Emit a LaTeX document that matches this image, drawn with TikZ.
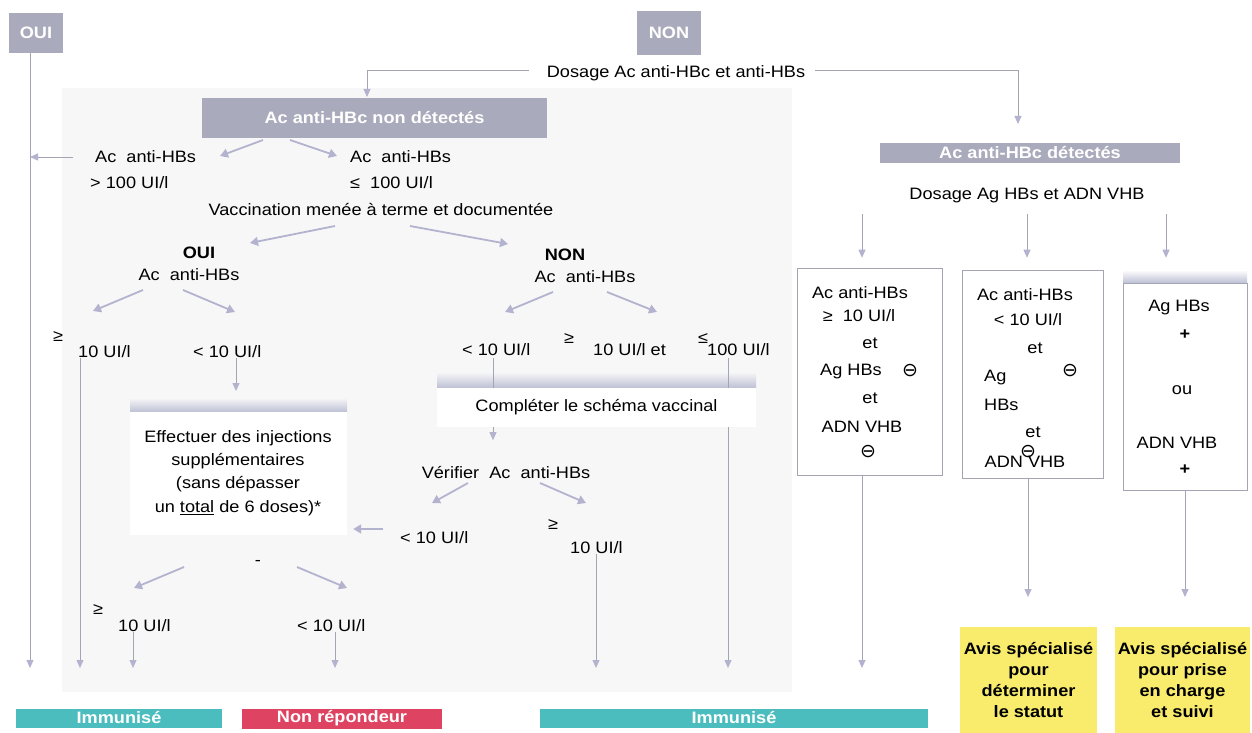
\documentclass[tikz,border=0pt]{standalone}
\usepackage{fontspec}
\setmainfont{Liberation Sans}[FakeStretch=1.1]
\newfontfamily\dvsym{DejaVu Sans}
\usetikzlibrary{arrows.meta,calc}
\definecolor{boxgray}{HTML}{A9AABB}
\definecolor{arrc}{HTML}{B3B3CF}
\definecolor{linec}{HTML}{A4A4B2}
\definecolor{immc}{HTML}{4CBDBE}
\definecolor{redc}{HTML}{DE4462}
\definecolor{yelc}{HTML}{F9EC6C}
\definecolor{panelc}{HTML}{F7F7F8}
\definecolor{shadc}{HTML}{BDC0D4}
\newcommand\dgfs{\fontsize{16.5}{20}\selectfont}
\newcommand\dgmin{{\dvsym\fontsize{19}{20}\selectfont ⊖}}
\tikzset{
  txt/.style={inner sep=0pt, font=\dgfs},
  btxt/.style={inner sep=0pt, font=\dgfs\bfseries},
  gbox/.style={fill=boxgray, text=white, font=\dgfs\bfseries, inner sep=0pt},
  arr/.style={draw=arrc, line width=1.8pt, -{Triangle[width=9pt,length=8pt,color=arrc]}},
  varr/.style={draw=linec, line width=0.8pt, -{Triangle[width=7pt,length=8pt,color=arrc]}},
  vline/.style={draw=linec, line width=0.8pt},
  wbox/.style={fill=white, draw=linec, line width=0.6pt, inner sep=0pt},
  plainbox/.style={fill=white, inner sep=0pt},
  resbox/.style={text=white, font=\dgfs\bfseries, inner sep=0pt},
  ybox/.style={fill=yelc, font=\dgfs\bfseries, align=center, inner sep=0pt}
}
\begin{document}
\begin{tikzpicture}[x=1pt,y=-1pt]
\path[use as bounding box, fill=white] (0,0) rectangle (1252,733);
\fill[panelc] (62,88) rectangle (792,692);

% ---------- top ----------
\node[gbox, minimum width=54pt, minimum height=40pt] (oui) at (36,33) {OUI};
\node[gbox, minimum width=64pt, minimum height=44pt] (non) at (669,33) {NON};
\node[txt] (dosage) at (676,73) {Dosage Ac anti-HBc et anti-HBs};
\node[gbox, minimum width=345pt, minimum height=40pt] (nondet) at (374.5,118) {Ac anti-HBc non détectés};
\node[gbox, minimum width=300pt, minimum height=20pt] (det) at (1030,153) {Ac anti-HBc détectés};
\coordinate (nda) at (367,97);
\coordinate (dta) at (1018,124);
\draw[varr] ([xshift=-18pt,yshift=3pt]dosage.west) -| (nda);
\draw[varr] ([xshift=10pt,yshift=3pt]dosage.east) -| (dta);

% ---------- left main line ----------
\coordinate (ouiend) at (30,668);
\draw[varr] (oui.south -| ouiend) -- (ouiend);

% ---------- anti-HBc non détectés branch ----------
\node[txt, anchor=west] (lh1) at (95,157) {Ac\ \ anti-HBs};
\node[txt, anchor=west] (lh2) at (90,183) {> 100 UI/l};
\node[txt, anchor=west] (rh1) at (350,157) {Ac\ \ anti-HBs};
\node[txt, anchor=west] (rh2) at (350,183) {≤\ \ 100 UI/l};
\coordinate (a1s) at (263,140); \coordinate (a1e) at (220,156);
\coordinate (a2s) at (290,140); \coordinate (a2e) at (337,156);
\draw[arr] (a1s) -- (a1e);
\draw[arr] (a2s) -- (a2e);
\draw[varr] ([xshift=-22pt]lh1.west) -- (lh1.west -| ouiend);

\node[txt] (vacc) at (381,210) {Vaccination menée à terme et documentée};
\coordinate (a3s) at (335,226); \coordinate (a3e) at (250,243);
\coordinate (a4s) at (410,226); \coordinate (a4e) at (508,244);
\draw[arr] (a3s) -- (a3e);
\draw[arr] (a4s) -- (a4e);

% OUI sub-branch
\node[btxt] (ouib) at (199,253) {OUI};
\node[txt] (ouiac) at (189,275) {Ac\ \ anti-HBs};
\coordinate (a5s) at (143,290); \coordinate (a5e) at (93,311);
\coordinate (a6s) at (183,290); \coordinate (a6e) at (235,312);
\draw[arr] (a5s) -- (a5e);
\draw[arr] (a6s) -- (a6e);
\node[txt] (ge1) at (58,337) {≥};
\node[txt, anchor=west] (g10a) at (78,352) {10 UI/l};
\node[txt, anchor=west] (lt10a) at (193,352) {< 10 UI/l};
\coordinate (e2) at (80,668);
\draw[varr] (g10a.south -| e2) -- (e2);
\coordinate (e3) at (236,391);
\draw[varr] (lt10a.south -| e3) -- (e3);

\shade[top color=panelc, bottom color=shadc] (130,398) rectangle (347,412);
\node[plainbox, minimum width=217pt, minimum height=123pt] (eff) at (238.5,473.5) {};
\node[txt] (eff1) at (238,438) {Effectuer des injections};
\node[txt] (eff2) at (238,461) {supplémentaires};
\node[txt] (eff3) at (238,484) {(sans dépasser};
\node[txt] (eff4) at (238,508) {un \underline{total} de 6 doses)*};

% NON sub-branch
\node[btxt] (nonb) at (565,255) {NON};
\node[txt] (nonac) at (585,277) {Ac\ \ anti-HBs};
\coordinate (a7s) at (553,292); \coordinate (a7e) at (505,312);
\coordinate (a8s) at (607,292); \coordinate (a8e) at (657,312);
\draw[arr] (a7s) -- (a7e);
\draw[arr] (a8s) -- (a8e);
\node[txt, anchor=west] (nlt10) at (462,350) {< 10 UI/l};
\node[txt] (ge2) at (569,339) {≥};
\node[txt, anchor=west] (n10et) at (593,350) {10 UI/l et};
\node[txt] (le2) at (703,339) {≤};
\node[txt, anchor=west] (n100) at (707,350) {100 UI/l};

\shade[top color=panelc, bottom color=shadc] (437,372) rectangle (756,388);
\node[plainbox, minimum width=319pt, minimum height=39pt, font=\dgfs] (comp) at (596.5,407.5) {Compléter le schéma vaccinal};
\coordinate (c1) at (493,358);
\coordinate (c2) at (728,358);
\draw[vline] (c1) -- (c1 |- comp.north);
\draw[vline] (c2) -- (c2 |- comp.north);
\draw[varr] (comp.south -| c1) -- ++(0,13);
\coordinate (e7) at (728,668);
\draw[varr] (comp.south -| e7) -- (e7);

\node[txt] (verif) at (506,473) {Vérifier\ \ Ac\ \ anti-HBs};
\coordinate (a9s) at (468,483); \coordinate (a9e) at (432,503);
\coordinate (a10s) at (540,483); \coordinate (a10e) at (586,503);
\draw[arr] (a9s) -- (a9e);
\draw[arr] (a10s) -- (a10e);
\node[txt, anchor=west] (vlt10) at (400,538) {< 10 UI/l};
\node[txt] (ge3) at (553,525) {≥};
\node[txt, anchor=west] (vg10) at (570,548) {10 UI/l};
\coordinate (v1s) at (383,529);
\draw[arr] (v1s) -- ([xshift=6pt]v1s -| eff.east);
\coordinate (e6) at (596,668);
\draw[varr] (vg10.south -| e6) -- (e6);

\node[txt] (dash) at (258,563) {-};
\coordinate (a11s) at (184,567); \coordinate (a11e) at (134,588);
\coordinate (a12s) at (297,567); \coordinate (a12e) at (347,588);
\draw[arr] (a11s) -- (a11e);
\draw[arr] (a12s) -- (a12e);
\node[txt] (ge4) at (98,610) {≥};
\node[txt, anchor=west] (f10) at (118,626) {10 UI/l};
\node[txt, anchor=west] (flt10) at (297,626) {< 10 UI/l};
\coordinate (e4) at (133,668);
\coordinate (e5) at (335,668);
\draw[varr] (f10.south -| e4) -- (e4);
\draw[varr] (flt10.south -| e5) -- (e5);

% ---------- results ----------
\node[resbox, fill=immc, minimum width=206pt, minimum height=19pt] (imm1) at (119,718) {Immunisé};
\node[resbox, fill=redc, minimum width=200pt, minimum height=20pt] (nrep) at (342,718.5) {Non répondeur};
\node[resbox, fill=immc, minimum width=388pt, minimum height=19pt] (imm2) at (734,718) {Immunisé};

% ---------- anti-HBc détectés branch ----------
\node[txt] (dosag) at (1027,196) {Dosage Ag HBs et ADN VHB};
\node[wbox, minimum width=145pt, minimum height=207pt] (b1) at (869.5,371.5) {};
\node[wbox, minimum width=141pt, minimum height=208pt] (b2) at (1032.5,374) {};
\shade[top color=white, bottom color=shadc] (1123,270) rectangle (1247,283);
\node[wbox, minimum width=124pt, minimum height=207pt] (b3) at (1185,386.5) {};
\coordinate (r1) at (862,214); \coordinate (r2) at (1027,214); \coordinate (r3) at (1166,214);
\draw[varr] (r1) -- ([yshift=10pt]r1 |- b1.north);
\draw[varr] (r2) -- ([yshift=12pt]r2 |- b2.north);
\draw[varr] (r3) -- ([yshift=25pt]r3 |- b3.north);

% box 1 text
\node[txt] (b1t1) at (860,293) {Ac anti-HBs};
\node[txt] (b1t2) at (859,316) {≥\ \ 10 UI/l};
\node[txt] (b1t3) at (870,343) {et};
\node[txt] (b1t4) at (851,372) {Ag HBs};
\node[inner sep=0pt] (b1m1) at (910,371) {\dgmin};
\node[txt] (b1t5) at (870,398) {et};
\node[txt] (b1t6) at (862,427) {ADN VHB};
\node[inner sep=0pt] (b1m2) at (868,452) {\dgmin};

% box 2 text
\node[txt] (b2t1) at (1025,295) {Ac anti-HBs};
\node[txt] (b2t2) at (1028,320) {< 10 UI/l};
\node[txt] (b2t3) at (1035,348) {et};
\node[txt, anchor=west] (b2t4) at (984,378) {Ag};
\node[inner sep=0pt] (b2m1) at (1070,371) {\dgmin};
\node[txt, anchor=west] (b2t5) at (984,405) {HBs};
\node[txt] (b2t6) at (1033,432) {et};
\node[txt] (b2t7) at (1025,462) {ADN VHB};
\node[inner sep=0pt] (b2m2) at (1028,452) {\dgmin};

% box 3 text
\node[txt] (b3t1) at (1179,308) {Ag HBs};
\node[btxt] (b3t2) at (1185,335) {+};
\node[txt] (b3t3) at (1182,390) {ou};
\node[txt] (b3t4) at (1177,443) {ADN VHB};
\node[btxt] (b3t5) at (1185,470) {+};

% lines to results
\coordinate (e8) at (862,668);
\coordinate (e9) at (1028,597);
\coordinate (e10) at (1185,597);
\draw[varr] (b1.south -| e8) -- (e8);
\draw[varr] (b2.south -| e9) -- (e9);
\draw[varr] (b3.south -| e10) -- (e10);

\node[ybox, minimum width=137pt, minimum height=106pt] (y1) at (1028.5,680) {Avis spécialisé\\[1pt]pour\\[1pt]déterminer\\[1pt]le statut};
\node[ybox, minimum width=135pt, minimum height=106pt] (y2) at (1182.5,680) {Avis spécialisé\\[1pt]pour prise\\[1pt]en charge\\[1pt]et suivi};
\end{tikzpicture}
\end{document}
